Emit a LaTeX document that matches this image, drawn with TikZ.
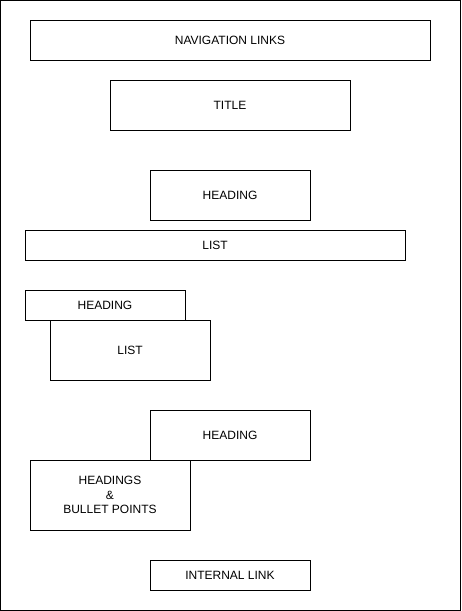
\documentclass[tikz,border=0pt]{standalone}
\usepackage{fontspec}
\setmainfont{Liberation Sans}
\begin{document}
\begin{tikzpicture}[x=1pt,y=-1pt,
  box/.style={draw=black,fill=white,line width=1pt,inner sep=0pt,align=center,
    font=\fontsize{12}{14.5}\selectfont},
  frame/.style={draw=black,line width=1pt}]
\useasboundingbox (0,0) rectangle (461,611);
\draw[frame] (0.5,0.5) rectangle (460,610);
\newcommand{\boxnode}[6]{%
  \node[box,minimum width=#4-#2,minimum height=#5-#3] (#1) at ({(#2+#4)/2},{(#3+#5)/2}) {#6};}
\boxnode{nav}{30}{20}{430}{60}{NAVIGATION LINKS}
\boxnode{title}{110}{80}{350}{130}{TITLE}
\boxnode{h1}{150}{170}{310}{220}{HEADING}
\boxnode{l1}{25}{230}{405}{260}{LIST}
\boxnode{h2}{25}{290}{185}{320}{HEADING}
\boxnode{l2}{50}{320}{210}{380}{LIST}
\boxnode{h3}{150}{410}{310}{460}{HEADING}
\boxnode{hb}{30}{460}{190}{530}{HEADINGS\\\&\\BULLET POINTS}
\boxnode{il}{150}{560}{310}{590}{INTERNAL LINK}
\end{tikzpicture}
\end{document}
